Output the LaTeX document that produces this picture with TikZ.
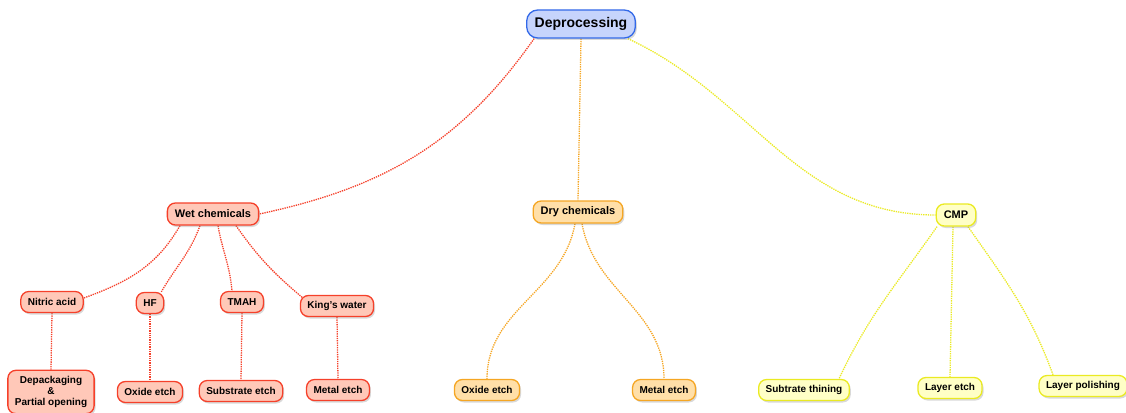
\documentclass[tikz,border=0pt]{standalone}
\usepackage{fontspec}
\setmainfont{Liberation Sans}
\usepackage{tikz}
\usetikzlibrary{shapes,shadows,positioning}
\definecolor{rootfill}{HTML}{C6D4FC}
\definecolor{rootline}{HTML}{3369E8}
\definecolor{wetfill}{HTML}{FFC8B8}
\definecolor{wetline}{HTML}{F5402A}
\definecolor{dryfill}{HTML}{FFDFA8}
\definecolor{dryline}{HTML}{F5A623}
\definecolor{cmpfill}{HTML}{FFFFC6}
\definecolor{cmpline}{HTML}{EAEA22}
\tikzstyle{box} = [draw, rounded corners=8pt, line width=1.3pt, inner xsep=7pt, inner ysep=4pt, minimum height=21pt, align=center, font=\bfseries\fontsize{10}{11}\selectfont, drop shadow={shadow xshift=1.5pt, shadow yshift=-2pt, opacity=0.3}]
\tikzstyle{rootbox} = [box, fill=rootfill, draw=rootline, minimum height=28pt, inner xsep=8pt, rounded corners=11pt, font=\bfseries\fontsize{14}{16}\selectfont]
\tikzstyle{wetbox} = [box, fill=wetfill, draw=wetline]
\tikzstyle{drybox} = [box, fill=dryfill, draw=dryline]
\tikzstyle{cmpbox} = [box, fill=cmpfill, draw=cmpline]
\tikzstyle{midbox} = [minimum height=22pt, inner xsep=7.5pt, font=\bfseries\fontsize{11}{13}\selectfont]
\tikzstyle{link} = [densely dotted, line width=1.3pt]
\tikzstyle{wetlink} = [link, draw=wetline]
\tikzstyle{drylink} = [link, draw=dryline]
\tikzstyle{cmplink} = [link, draw=cmpline]
\pgfdeclarelayer{background}
\pgfsetlayers{background,main}

\begin{document}
\begin{tikzpicture}[x=1pt,y=1pt]
	\useasboundingbox (0,0) rectangle (1126,-412);
	% root and the three branches
	\node (root) [rootbox] at (581,-24) {Deprocessing};
	\node (wet) [wetbox, midbox] at (213,-214) {Wet chemicals};
	\node (dry) [drybox, midbox] at (578,-212) {Dry chemicals};
	\node (cmp) [cmpbox, midbox] at (956,-215) {CMP};
	% wet chemicals
	\node (nitric) [wetbox] at (52,-302) {Nitric acid};
	\node (hf) [wetbox] at (150,-303) {HF};
	\node (tmah) [wetbox] at (242,-302) {TMAH};
	\node (kings) [wetbox] at (337,-306) {King's water};
	\node (depack) [wetbox, inner ysep=6pt] at (51,-392) {Depackaging\\\&\\Partial opening};
	\node (wet-ox) [wetbox] at (150,-392) {Oxide etch};
	\node (wet-sub) [wetbox] at (241,-391) {Substrate etch};
	\node (wet-met) [wetbox] at (338,-390) {Metal etch};
	% dry chemicals
	\node (dry-ox) [drybox] at (487,-390) {Oxide etch};
	\node (dry-met) [drybox] at (664,-390) {Metal etch};
	% cmp
	\node (thin) [cmpbox] at (804,-390) {Subtrate thining};
	\node (layer) [cmpbox] at (950,-388) {Layer etch};
	\node (polish) [cmpbox] at (1083,-386) {Layer polishing};

	% links, behind the boxes
	\begin{pgfonlayer}{background}
	\draw[wetlink] ([xshift=8pt]root.south west) to[out=235,in=12] (wet.east);
	\draw[drylink] (root.south) -- (dry.north);
	\draw[cmplink] ([xshift=-8pt]root.south east) to[out=-25,in=180] (cmp.west);

	\draw[wetlink] ([xshift=-33pt]wet.south) to[out=240,in=20] ([yshift=4pt]nitric.east);
	\draw[wetlink] ([xshift=-13pt]wet.south) to[out=250,in=60] ([xshift=-3pt]hf.north east);
	\draw[wetlink] ([xshift=5pt]wet.south) to[out=280,in=95] ([xshift=-10pt]tmah.north);
	\draw[wetlink] ([xshift=23pt]wet.south) to[out=-55,in=140] ([xshift=3pt,yshift=-3pt]kings.north west);
	\draw[wetlink] (nitric.south) -- (depack.north);
	\draw[wetlink] (hf.south) -- (wet-ox.north);
	\draw[wetlink] (tmah.south) -- (wet-sub.north);
	\draw[wetlink] (kings.south) -- (wet-met.north);

	\draw[drylink] ([xshift=-3pt]dry.south) to[out=260,in=90] (dry-ox.north);
	\draw[drylink] ([xshift=4pt]dry.south) to[out=280,in=90] (dry-met.north);

	\draw[cmplink] ([xshift=-19pt]cmp.south) to[out=235,in=65] ([xshift=-11pt]thin.north east);
	\draw[cmplink] ([xshift=-3pt]cmp.south) -- (layer.north);
	\draw[cmplink] ([xshift=12pt]cmp.south) to[out=-55,in=110] ([xshift=-30pt]polish.north);
	\end{pgfonlayer}
\end{tikzpicture}
\end{document}
